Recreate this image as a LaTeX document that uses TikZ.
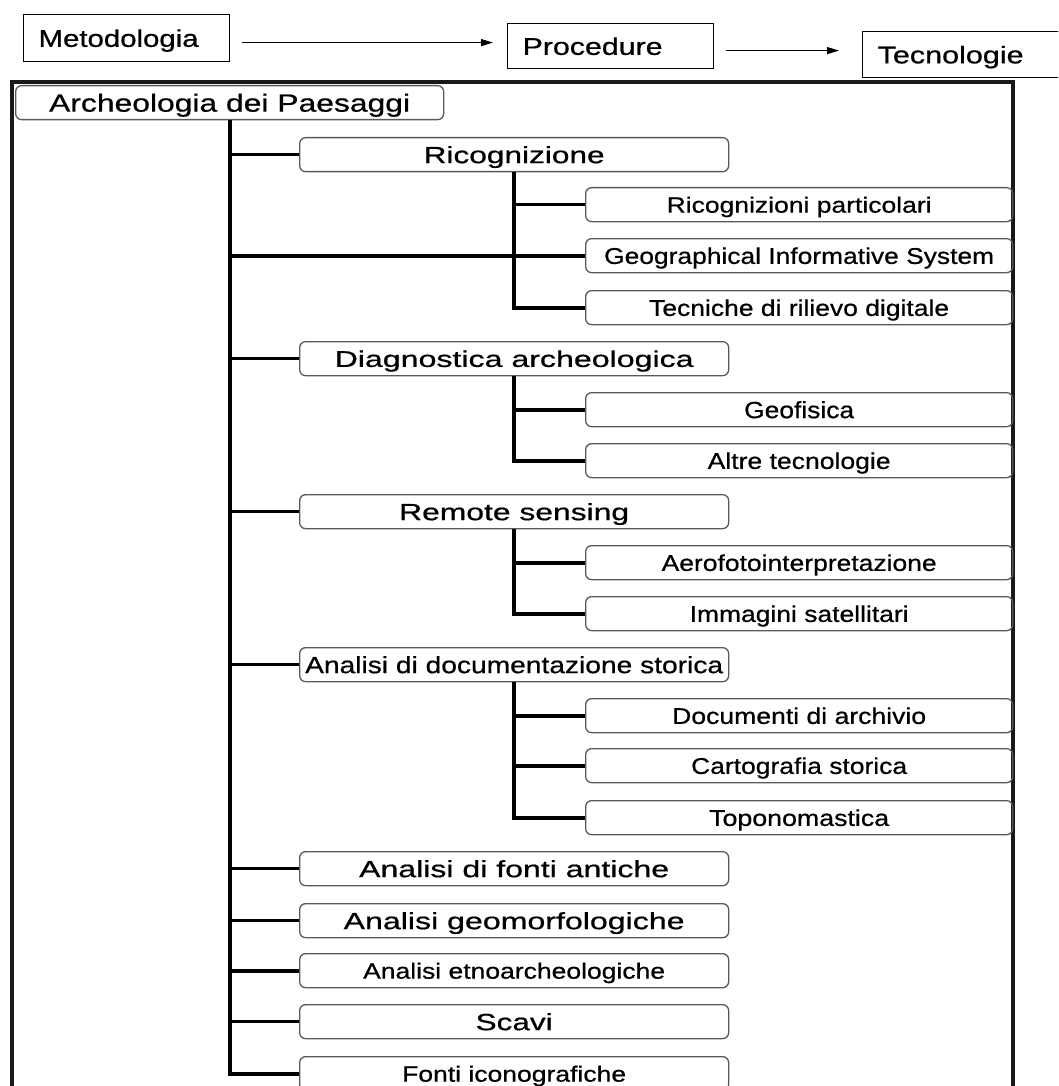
\documentclass[tikz,border=0pt]{standalone}
\usepackage{graphicx}
\usepackage{fontspec}
\setmainfont{Liberation Sans}[FakeBold=0.6]
\usetikzlibrary{arrows.meta}
\newcommand\fitt[3]{\resizebox{#1pt}{#2pt}{#3}}
\begin{document}
\begin{tikzpicture}[x=1pt,y=-1pt,
  every node/.style={font=\fontsize{24}{28}\selectfont},
  topbox/.style={draw=black, line width=1.2pt, rectangle, inner xsep=15pt, inner ysep=0pt,
    align=left, anchor=north west, text depth=0pt},
  lvone/.style={draw=black!65, line width=1.3pt, rounded corners=6pt, minimum width=429pt,
    minimum height=34pt, inner sep=0pt, text depth=0pt, anchor=north west},
  lvtwo/.style={lvone, minimum width=427pt},
  rootbox/.style={lvone, minimum width=428pt},
  thinc/.style={line width=2.4pt, black},
  thickc/.style={line width=3.8pt, black},
  arr/.style={line width=1.2pt, -{Triangle[length=12pt,width=7pt]}},
  frame/.style={line width=3.5pt, black!90}
]
\useasboundingbox (0,0) rectangle (1058,1086);
\clip (0,0) rectangle (1058,1086);
\fill[white] (0,0) rectangle (1058,1086);

% top row
\node[topbox, text width=176pt, minimum height=47pt] (met) at (23,14) {\fitt{160}{17.5}{Metodologia}};
\node[topbox, text width=176pt, minimum height=45pt] (pro) at (507,23) {\fitt{140}{17.5}{Procedure}};
\node[topbox, text width=170pt, minimum height=46pt] (tec) at (862,31) {\fitt{146}{17.5}{Tecnologie}};
\draw[arr] ([shift={(12,4.5)}]met.east) -- ([shift={(-14,-3.5)}]pro.west);
\draw[arr] ([shift={(12,4.5)}]pro.east) -- ([shift={(-23,-4)}]tec.west);

% outer frame
\draw[frame] (12,1100) -- (12,82) -- (1013,82) -- (1013,1100);

% root
\node[rootbox] (arch) at (15,85) {\fitt{361}{18}{Archeologia dei Paesaggi}};

% level one
\node[lvone] (ric) at (299,137) {\fitt{181}{17}{Ricognizione}};
\node[lvone] (dia) at (299,341) {\fitt{359}{16.5}{Diagnostica archeologica}};
\node[lvone] (rem) at (299,494) {\fitt{230}{17}{Remote sensing}};
\node[lvone] (doc) at (299,647) {\fitt{418}{17}{Analisi di documentazione storica}};
\node[lvone] (fan) at (299,851) {\fitt{310}{17}{Analisi di fonti antiche}};
\node[lvone] (geo) at (299,903) {\fitt{341}{17}{Analisi geomorfologiche}};
\node[lvone] (etn) at (299,953) {\fitt{302}{16}{Analisi etnoarcheologiche}};
\node[lvone] (sca) at (299,1004) {\fitt{77}{17}{Scavi}};
\node[lvone] (fic) at (299,1056) {\fitt{224}{16}{Fonti iconografiche}};

% level two
\node[lvtwo] (rpa) at (585,187) {\fitt{265}{16}{Ricognizioni particolari}};
\node[lvtwo] (gis) at (585,238) {\fitt{390}{16.5}{Geographical Informative System}};
\node[lvtwo] (trd) at (585,290) {\fitt{300}{16.5}{Tecniche di rilievo digitale}};
\node[lvtwo] (gfs) at (585,392) {\fitt{110}{17}{Geofisica}};
\node[lvtwo] (alt) at (585,443) {\fitt{183}{16.5}{Altre tecnologie}};
\node[lvtwo] (aer) at (585,545) {\fitt{275}{16.5}{Aerofotointerpretazione}};
\node[lvtwo] (imm) at (585,596) {\fitt{219}{16.5}{Immagini satellitari}};
\node[lvtwo] (dar) at (585,698) {\fitt{254}{16.5}{Documenti di archivio}};
\node[lvtwo] (car) at (585,748) {\fitt{216}{16.5}{Cartografia storica}};
\node[lvtwo] (top) at (585,800) {\fitt{180}{16.5}{Toponomastica}};

% main trunk
\draw[thickc] (arch.south) |- (fic.west);
\draw[thinc] (arch.south |- ric.west) -- (ric.west);
\draw[thickc] (arch.south |- gis.west) -- (gis.west);
\draw[thinc] (arch.south |- dia.west) -- (dia.west);
\draw[thinc] (arch.south |- rem.west) -- (rem.west);
\draw[thinc] (arch.south |- doc.west) -- (doc.west);
\draw[thinc] (arch.south |- fan.west) -- (fan.west);
\draw[thinc] (arch.south |- geo.west) -- (geo.west);
\draw[thickc] (arch.south |- etn.west) -- (etn.west);
\draw[thinc] (arch.south |- sca.west) -- (sca.west);

% sub trunks
\draw[thickc] (ric.south) |- (trd.west);
\draw[thinc] (ric.south |- rpa.west) -- (rpa.west);
\draw[thickc] (dia.south) |- (alt.west);
\draw[thickc] (dia.south |- gfs.west) -- (gfs.west);
\draw[thickc] (rem.south) |- (imm.west);
\draw[thickc] (rem.south |- aer.west) -- (aer.west);
\draw[thickc] (doc.south) |- (top.west);
\draw[thickc] (doc.south |- dar.west) -- (dar.west);
\draw[thickc] (doc.south |- car.west) -- (car.west);
\end{tikzpicture}
\end{document}
